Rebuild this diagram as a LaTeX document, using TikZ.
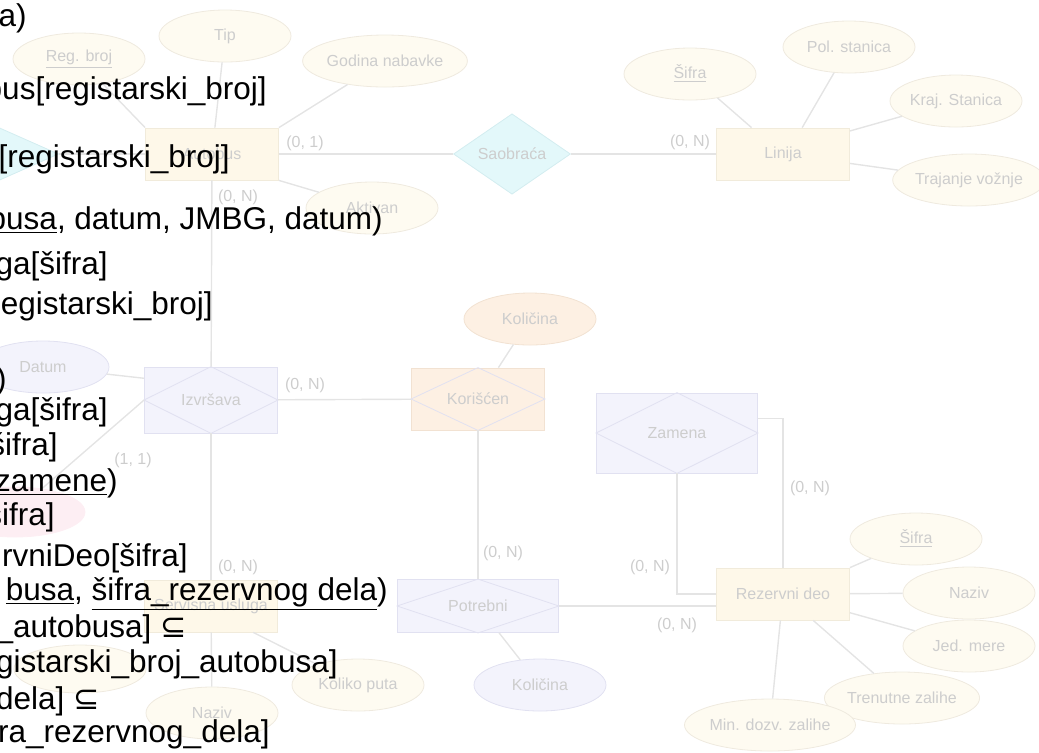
\documentclass[tikz,border=0pt]{standalone}
\usepackage{fontspec}
\setmainfont{Liberation Sans}
\newfontfamily\symfont{DejaVu Sans}
\usepackage{tikz}
\usepackage{xcolor}
\usetikzlibrary{shapes.geometric}
\definecolor{er-txt}{HTML}{CDCDCD}
\definecolor{er-line}{HTML}{E4E4E4}
\definecolor{er-yellow}{HTML}{FEF8E9}
\definecolor{er-yellow-edge}{HTML}{F1EBDB}
\definecolor{er-cream}{HTML}{FEFBF1}
\definecolor{er-cream-edge}{HTML}{EFEADF}
\definecolor{er-cyan}{HTML}{E3F8FA}
\definecolor{er-cyan-edge}{HTML}{D3EDF0}
\definecolor{er-lav}{HTML}{F3F3FC}
\definecolor{er-lav-edge}{HTML}{E1E1F1}
\definecolor{er-orange}{HTML}{FDF0E3}
\definecolor{er-orange-edge}{HTML}{F2E2D2}
\definecolor{er-pink}{HTML}{FDEEF3}
\tikzset{
    er-text/.style = {text=er-txt, font=\fontsize{8}{9}\selectfont, inner sep=0pt},
    er-entity/.style = {er-text, draw=er-yellow-edge, fill=er-yellow, rectangle, minimum width=66.5pt, minimum height=26pt},
    er-attr/.style = {er-text, draw=er-cream-edge, fill=er-cream, ellipse, minimum width=66pt, minimum height=26pt},
    er-rel/.style = {er-text, draw=er-cyan-edge, fill=er-cyan, diamond, minimum width=58.5pt, minimum height=26pt},
    er-assoc/.style = {er-text, draw=er-lav-edge, fill=er-lav, rectangle, minimum width=66.5pt, minimum height=33pt},
    er-link/.style = {draw=er-line, line width=0.7pt},
    er-card/.style = {text=er-txt, font=\fontsize{8}{9}\selectfont, inner sep=0pt},
    schema-line/.style = {anchor=base east, font=\fontsize{15.75}{18}\selectfont, inner sep=0pt},
}

\begin{document}
\begin{tikzpicture}[x=0.5pt, y=-0.5pt]
\clip (0,0) rectangle (1039,752);
% entities
\node[er-entity] (autobus) at (212,154) {Autobus};
\node[er-entity] (linija) at (783,154) {Linija};
\node[er-entity] (rezdeo) at (783,594) {Rezervni deo};
\node[er-entity] (servisna) at (211,606) {Servisna usluga};
\node[er-rel] (saobraca) at (512,154) {Saobraća};
\node[er-rel] (leftrel) at (0,154) {};
% associative entities
\node[er-assoc] (izvrsava) at (211,400) {Izvršava};
\node[er-assoc, draw=er-orange-edge, fill=er-orange, minimum height=31pt] (korisen) at (478,399) {Korišćen};
\node[er-assoc, minimum width=80.5pt, minimum height=40pt] (zamena) at (677,433) {Zamena};
\node[er-assoc, minimum width=80.5pt, minimum height=26.5pt] (potrebni) at (478,606) {Potrebni};
\foreach \n in {izvrsava, korisen, zamena, potrebni}
    \draw[draw=er-lav-edge] (\n.north) -- (\n.east) -- (\n.south) -- (\n.west) -- cycle;
% attributes
\node[er-attr] (tip) at (225,36) {Tip};
\node[er-attr] (regbroj) at (79,59) {\underline{Reg. broj}};
\node[er-attr, minimum width=67.5pt] (godina) at (385,61) {Godina nabavke};
\node[er-attr] (aktivan) at (372,208) {Aktivan};
\node[er-attr] (sifra-l) at (690,74) {\underline{Šifra}};
\node[er-attr] (pol-st) at (849,47) {Pol. stanica};
\node[er-attr] (kraj-st) at (956,101) {Kraj. Stanica};
\node[er-attr] (trajanje) at (969,180) {Trajanje vožnje};
\node[er-attr, draw=er-lav-edge, fill=er-lav] (datum) at (43,367) {Datum};
\node[er-attr, draw=er-pink, fill=er-pink, minimum width=70pt, minimum height=25pt] (pinkattr) at (15,512) {};
\node[er-attr, draw=er-orange-edge, fill=er-orange] (kolicina-k) at (530,319) {Količina};
\node[er-attr, draw=er-lav-edge, fill=er-lav] (kolicina-p) at (540,685) {Količina};
\node[er-attr] (koliko) at (358,685) {Koliko puta};
\node[er-attr] (naziv-s) at (212,713) {Naziv};
\node[er-attr, minimum height=24pt] (datum-s) at (80,669) {};
\node[er-attr] (sifra-r) at (916,539) {\underline{Šifra}};
\node[er-attr] (naziv-r) at (969,593) {Naziv};
\node[er-attr] (jedmere) at (969,646) {Jed. mere};
\node[er-attr] (trenutne) at (902,698) {Trenutne zalihe};
\node[er-attr] (mindozv) at (770,725) {Min. dozv. zalihe};
% connectors
\draw[er-link] (tip) -- (autobus);
\draw[er-link] (regbroj) -- (autobus.north west);
\draw[er-link] (godina) -- (autobus.north east);
\draw[er-link] (aktivan) -- (autobus.south east);
\draw[er-link] (leftrel) -- (autobus);
\draw[er-link] (autobus) -- (saobraca) -- (linija);
\draw[er-link] (sifra-l) -- (linija.140);
\draw[er-link] (pol-st) -- (linija.54);
\draw[er-link] (kraj-st) -- (linija.19);
\draw[er-link] (trajanje) -- (linija.-8);
\draw[er-link] (autobus) -- (izvrsava);
\draw[er-link] (izvrsava) -- (korisen);
\draw[er-link] (datum) -- (izvrsava.162);
\draw[er-link] (izvrsava.west) -- (pinkattr);
\draw[er-link] (izvrsava) -- (servisna);
\draw[er-link] (servisna) -- (naziv-s);
\draw[er-link] (servisna.-32) -- (koliko);
\draw[er-link] (kolicina-k) -- (korisen.57);
\draw[er-link] (korisen) -- (potrebni);
\draw[er-link] (potrebni) -- (kolicina-p);
\draw[er-link] (potrebni.east) -- (potrebni.east -| rezdeo.west);
\draw[er-link] (zamena.south) |- (rezdeo.west);
\draw[er-link] (zamena.10) -| (rezdeo.north);
\draw[er-link] (rezdeo.north east) -- (sifra-r);
\draw[er-link] (rezdeo) -- (naziv-r);
\draw[er-link] (rezdeo) -- (jedmere);
\draw[er-link] (rezdeo) -- (trenutne);
\draw[er-link] (rezdeo) -- (mindozv);
% cardinalities
\node[er-card] at (305,143) {(0, 1)};
\node[er-card] at (690,142) {(0, N)};
\node[er-card] at (238,197) {(0, N)};
\node[er-card] at (305,385) {(0, N)};
\node[er-card] at (133,460) {(1, 1)};
\node[er-card] at (238,567) {(0, N)};
\node[er-card] at (503,553) {(0, N)};
\node[er-card] at (650,567) {(0, N)};
\node[er-card] at (810,488) {(0, N)};
\node[er-card] at (677,625) {(0, N)};
% relational schema text
\node[schema-line] (s1) at (27,26) {a)};
\node[schema-line] (s2) at (267,99) {bus[registarski\_broj]};
\node[schema-line] (s3) at (230,167) {[registarski\_broj]};
\node[schema-line] (s4) at (383,229) {\underline{busa}, datum, JMBG, datum)};
\node[schema-line] (s5) at (108,274) {ga[šifra]};
\node[schema-line] (s6) at (213,314) {egistarski\_broj]};
\node[schema-line] (s7) at (7,389) {)};
\node[schema-line] (s8) at (108,420) {ga[šifra]};
\node[schema-line] (s9) at (58,455) {šifra]};
\node[schema-line] (s10) at (118,491) {\underline{zamene})};
\node[schema-line] (s11) at (55,525) {šifra]};
\node[schema-line] (s12) at (188,566) {rvniDeo[šifra]};
\node[schema-line] (s13) at (388,600) {\underline{busa}, \underline{šifra\_rezervnog dela})};
\node[schema-line] (s14) at (187,637) {\_autobusa] {\symfont ⊆}};
\node[schema-line] (s15) at (338,672) {gistarski\_broj\_autobusa]};
\node[schema-line] (s16) at (100,709) {dela] {\symfont ⊆}};
\node[schema-line] (s17) at (270,742) {ra\_rezervnog\_dela]};
\end{tikzpicture}
\end{document}
